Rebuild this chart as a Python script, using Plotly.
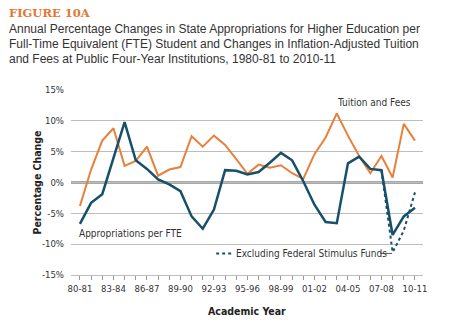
import plotly.graph_objects as go

years = ["80-81","81-82","82-83","83-84","84-85","85-86","86-87","87-88","88-89","89-90",
         "90-91","91-92","92-93","93-94","94-95","95-96","96-97","97-98","98-99","99-00",
         "00-01","01-02","02-03","03-04","04-05","05-06","06-07","07-08","08-09","09-10","10-11"]
tuition = [-3.8, 2.1, 6.8, 8.8, 2.7, 3.5, 5.8, 1.1, 2.1, 2.5,
           7.5, 5.8, 7.6, 6.1, 3.8, 1.4, 2.9, 2.4, 2.8, 1.5,
           0.6, 4.6, 7.3, 11.2, 7.6, 4.3, 1.5, 4.3, 0.8, 9.5, 6.8]
approp = [-6.7, -3.3, -1.9, 3.8, 9.8, 3.6, 2.2, 0.5, -0.3, -1.4,
          -5.5, -7.5, -4.4, 2.0, 1.9, 1.3, 1.7, 3.2, 4.8, 3.6,
          0.2, -3.6, -6.4, -6.6, 3.1, 4.2, 2.2, 2.0, -8.5, -5.5, -4.1]
excl_years = ["07-08", "08-09", "09-10", "10-11"]
excl_stim = [2.0, -11.3, -7.8, -1.6]

tick_labels = ["80-81","83-84","86-87","89-90","92-93","95-96","98-99","01-02","04-05","07-08","10-11"]
y_ticks = [-15, -10, -5, 0, 5, 10, 15]
y_labels = ["-15%", "-10%", "-5%", "0%", "5%", "10%", "15%"]

ORANGE = "#E8803A"
BLUE = "#17506A"
TXT = "#333333"
COND = "DejaVu Sans Condensed, Liberation Sans Narrow, Arial Narrow, sans-serif"

fig = go.Figure()
fig.add_trace(go.Scatter(x=years, y=tuition, mode="lines",
                         line=dict(color=ORANGE, width=2), hoverinfo="skip"))
fig.add_trace(go.Scatter(x=excl_years, y=excl_stim, mode="lines",
                         line=dict(color=BLUE, width=2, dash="dot"), hoverinfo="skip"))
fig.add_trace(go.Scatter(x=years, y=approp, mode="lines",
                         line=dict(color=BLUE, width=2.5), hoverinfo="skip"))

L, R, T, B = 71, 51, 90, 56
PW, PH = 474 - L - R, 331 - T - B

def px(x):
    return (x - L) / PW

def py(y):
    return (331 - B - y) / PH

ann = []
ann.append(dict(text="<b>FIGURE 10A</b>", x=px(7), y=py(13), xref="paper", yref="paper",
                xanchor="left", yanchor="middle", showarrow=False,
                font=dict(family="DejaVu Serif", size=11.5, color="#E07A35")))
sub = ["Annual Percentage Changes in State Appropriations for Higher Education per",
       "Full-Time Equivalent (FTE) Student and Changes in Inflation-Adjusted Tuition",
       "and Fees at Public Four-Year Institutions, 1980-81 to 2010-11"]
for i, s in enumerate(sub):
    ann.append(dict(text=s, x=px(7), y=py(29 + 15 * i), xref="paper", yref="paper",
                    xanchor="left", yanchor="middle", showarrow=False,
                    font=dict(family="Liberation Sans, Arial, sans-serif", size=12, color=TXT)))
ann.append(dict(text="Tuition and Fees", x=29.8, y=12.9, xref="x", yref="y",
                xanchor="right", yanchor="middle", showarrow=False,
                font=dict(family=COND, size=10, color=TXT)))
ann.append(dict(text="Appropriations per FTE", x=-0.25, y=-8.2, xref="x", yref="y",
                xanchor="left", yanchor="middle", showarrow=False,
                font=dict(family=COND, size=10, color=TXT)))
ann.append(dict(text="Excluding Federal Stimulus Funds", x=13.8, y=-11.5, xref="x", yref="y",
                xanchor="left", yanchor="middle", showarrow=False,
                font=dict(family=COND, size=10, color=TXT)))
ann.append(dict(text="<b>Percentage Change</b>", x=px(36), y=0.5, xref="paper", yref="paper",
                xanchor="center", yanchor="middle", textangle=-90, showarrow=False,
                font=dict(family=COND, size=10.5, color="#222")))
ann.append(dict(text="<b>Academic Year</b>", x=px(247), y=py(311), xref="paper", yref="paper",
                xanchor="center", yanchor="middle", showarrow=False,
                font=dict(family=COND, size=10.5, color="#222")))

shapes = [
    dict(type="line", xref="x", yref="y", x0=12.2, x1=13.6, y0=-11.5, y1=-11.5,
         line=dict(color=BLUE, width=2, dash="dot")),
    dict(type="line", xref="x", yref="y", x0=26.9, x1=27.95, y0=-11.5, y1=-11.5,
         line=dict(color="#555", width=1)),
    dict(type="line", xref="paper", yref="y", x0=0, x1=1, y0=0, y1=0,
         line=dict(color="#8a8a8a", width=2.5), layer="below"),
]

fig.update_layout(
    width=474, height=331,
    margin=dict(l=L, r=R, t=T, b=B),
    paper_bgcolor="white", plot_bgcolor="white",
    showlegend=False,
    annotations=ann, shapes=shapes,
    xaxis=dict(type="category", categoryorder="array", categoryarray=years,
               range=[-0.8, 30.72],
               tickmode="array", tickvals=years,
               ticktext=[y if y in tick_labels else "" for y in years],
               ticks="outside", ticklen=4, tickcolor="#999", tickwidth=1,
               showgrid=False, zeroline=False, showline=True, linecolor="#bdbdbd", linewidth=1.2,
               tickfont=dict(family=COND, size=9.5, color=TXT)),
    yaxis=dict(range=[-15, 15], tickmode="array", tickvals=y_ticks, ticktext=y_labels,
               showgrid=True, gridcolor="#bdbdbd", gridwidth=1.2,
               zeroline=False, showline=False, ticks="", ticklabelstandoff=6,
               tickfont=dict(family=COND, size=9.5, color=TXT)),
)

fig.write_html("out.html")
